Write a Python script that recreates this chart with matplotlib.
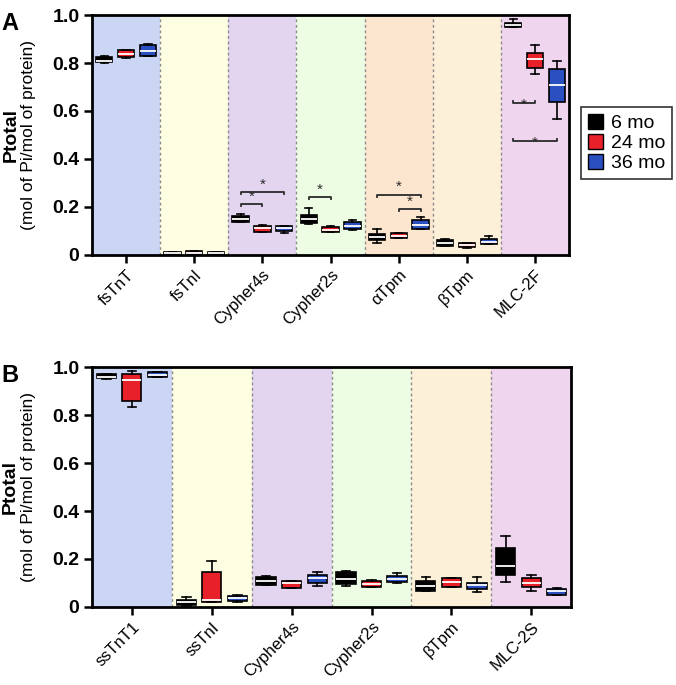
import matplotlib
matplotlib.use("Agg")
import matplotlib.pyplot as plt
from matplotlib.patches import Patch

plt.rcParams['font.family'] = ['Liberation Sans', 'DejaVu Sans']

groups = ["6 mo", "24 mo", "36 mo"]
group_colors = ["#000000", "#e8202a", "#2a4fc0"]

# ---------------- Panel A data ----------------
cats_a = ["fsTnT", "fsTnI", "Cypher4s", "Cypher2s", "αTpm", "βTpm", "MLC-2F"]
bg_a = ["#cad6f3", "#fefee3", "#e3d5ef", "#edfde3", "#fde6cf", "#fdf0d8", "#f0d5ef"]
# per group: lists over categories
a_whislo = [[0.80, 0.003, 0.135, 0.13, 0.05, 0.035, 0.95],
            [0.82, 0.002, 0.095, 0.095, 0.071, 0.03, 0.753],
            [0.83, 0.003, 0.09, 0.105, 0.108, 0.045, 0.568]]
a_q1 = [[0.804, 0.004, 0.1375, 0.133, 0.0625, 0.0375, 0.951],
        [0.825, 0.004, 0.096, 0.096, 0.071, 0.033, 0.78],
        [0.83, 0.004, 0.10, 0.108, 0.108, 0.046, 0.636]]
a_med = [[0.81, 0.008, 0.15, 0.15, 0.075, 0.05, 0.96],
         [0.838, 0.009, 0.11, 0.105, 0.08, 0.04, 0.815],
         [0.85, 0.007, 0.11, 0.12, 0.125, 0.055, 0.707]]
a_q3 = [[0.825, 0.012, 0.1625, 0.167, 0.0875, 0.0625, 0.968],
        [0.854, 0.015, 0.121, 0.117, 0.092, 0.048, 0.84],
        [0.875, 0.010, 0.12, 0.137, 0.146, 0.067, 0.775]]
a_whishi = [[0.83, 0.013, 0.17, 0.195, 0.108, 0.065, 0.983],
            [0.855, 0.016, 0.125, 0.12, 0.092, 0.05, 0.877],
            [0.88, 0.011, 0.12, 0.145, 0.158, 0.08, 0.81]]
# significance brackets: (category, group1, group2, y, inverted)
sig_a = [(2, 0, 1, 0.21, False), (2, 0, 2, 0.26, False),
         (3, 0, 1, 0.24, False),
         (4, 0, 2, 0.25, False), (4, 1, 2, 0.19, False),
         (6, 0, 1, 0.633, True), (6, 0, 2, 0.475, True)]

# ---------------- Panel B data ----------------
cats_b = ["ssTnT1", "ssTnI", "Cypher4s", "Cypher2s", "βTpm", "MLC-2S"]
bg_b = ["#cad6f3", "#fefee3", "#e3d5ef", "#edfde3", "#fdf0d8", "#f0d5ef"]
b_whislo = [[0.95, 0.005, 0.09, 0.089, 0.065, 0.102],
            [0.834, 0.02, 0.077, 0.082, 0.082, 0.068],
            [0.96, 0.022, 0.089, 0.098, 0.061, 0.05]]
b_q1 = [[0.953, 0.01, 0.091, 0.095, 0.065, 0.133],
        [0.857, 0.02, 0.078, 0.082, 0.082, 0.082],
        [0.96, 0.026, 0.10, 0.102, 0.075, 0.051]]
b_med = [[0.96, 0.02, 0.11, 0.115, 0.089, 0.172],
         [0.946, 0.027, 0.10, 0.095, 0.103, 0.10],
         [0.968, 0.037, 0.12, 0.118, 0.09, 0.065]]
b_q3 = [[0.97, 0.027, 0.123, 0.144, 0.108, 0.245],
        [0.97, 0.144, 0.109, 0.109, 0.12, 0.12],
        [0.978, 0.047, 0.133, 0.127, 0.098, 0.075]]
b_whishi = [[0.97, 0.04, 0.128, 0.151, 0.126, 0.296],
            [0.985, 0.192, 0.109, 0.112, 0.12, 0.133],
            [0.978, 0.05, 0.147, 0.141, 0.123, 0.078]]
sig_b = []

yticks = [0, 0.2, 0.4, 0.6, 0.8, 1.0]
ytick_labels = ["0", "0.2", "0.4", "0.6", "0.8", "1.0"]

OFFS = [-0.32, 0.0, 0.32]
BW = 0.24


def draw_panel(ax, cats, bgs, wlo, q1, med, q3, whi, sigs):
    n = len(cats)
    for i, c in enumerate(bgs):
        ax.axvspan(i - 0.5, i + 0.5, color=c, zorder=0, lw=0)
        if i > 0:
            ax.axvline(i - 0.5, color="#8a8a8a", lw=1.0, ls=(0, (2, 2)), zorder=1)
    for g in range(3):
        stats = []
        for i in range(n):
            stats.append(dict(whislo=wlo[g][i], q1=q1[g][i], med=med[g][i],
                              q3=q3[g][i], whishi=whi[g][i], fliers=[]))
        pos = [i + OFFS[g] for i in range(n)]
        ax.bxp(stats, positions=pos, widths=BW, patch_artist=True,
               showfliers=False, manage_ticks=False,
               boxprops=dict(facecolor=group_colors[g], edgecolor="black", lw=1.2),
               medianprops=dict(color="white", lw=1.3),
               whiskerprops=dict(color="black", lw=1.2),
               capprops=dict(color="black", lw=1.2), capwidths=BW * 0.45,
               zorder=3)
    for (ci, g1, g2, y, inv) in sigs:
        x1, x2 = ci + OFFS[g1], ci + OFFS[g2]
        d = 0.008 if inv else -0.008
        ax.plot([x1, x1, x2, x2], [y + d, y, y, y + d], color="#2a2a2a", lw=1.3, zorder=4)
        ys = y - 0.035 if inv else y + 0.003
        ax.text((x1 + x2) / 2, ys, "*", ha="center", va="bottom", fontsize=11,
                color="#2a2a2a", zorder=4)
    ax.set_xlim(-0.5, n - 0.5)
    ax.set_ylim(0, 1.0)
    ax.set_yticks(yticks)
    ax.set_yticklabels(ytick_labels, fontsize=14, fontweight="bold")
    ax.set_xticks(range(n))
    ax.set_xticklabels(cats, rotation=45, ha="right", rotation_mode="anchor", fontsize=12)
    ax.tick_params(axis="both", direction="out", length=6, width=1.8, pad=3)
    ax.tick_params(axis="x", pad=3)
    for s in ax.spines.values():
        s.set_linewidth(2.0)
        s.set_zorder(5)


fig = plt.figure(figsize=(6.76, 6.85), dpi=100)
axA = fig.add_axes([0.136, 0.628, 0.706, 0.350])
axB = fig.add_axes([0.136, 0.114, 0.709, 0.350])

draw_panel(axA, cats_a, bg_a, a_whislo, a_q1, a_med, a_q3, a_whishi, sig_a)
draw_panel(axB, cats_b, bg_b, b_whislo, b_q1, b_med, b_q3, b_whishi, sig_b)

for ax in (axA, axB):
    ax.text(-0.170, 0.5, "Ptotal", transform=ax.transAxes, rotation=90,
            ha="center", va="center", fontsize=14, fontweight="bold")
    ax.text(-0.133, 0.5, "(mol of Pi/mol of protein)", transform=ax.transAxes,
            rotation=90, ha="center", va="center", fontsize=12.5)

fig.text(0.002, 0.982, "A", fontsize=17, fontweight="bold", ha="left", va="top")
fig.text(0.002, 0.468, "B", fontsize=17, fontweight="bold", ha="left", va="top")

handles = [Patch(facecolor=c, edgecolor="black", lw=1) for c in group_colors]
leg = fig.legend(handles, groups, loc="upper left",
                 bbox_to_anchor=(581 / 676, 1 - 107 / 685), fontsize=14,
                 frameon=True, fancybox=False, edgecolor="black",
                 handlelength=0.8, handleheight=0.8, handletextpad=0.4,
                 labelspacing=0.1, borderpad=0.35, borderaxespad=0)
leg.get_frame().set_linewidth(1.2)

fig.savefig("out.png", dpi=100)
